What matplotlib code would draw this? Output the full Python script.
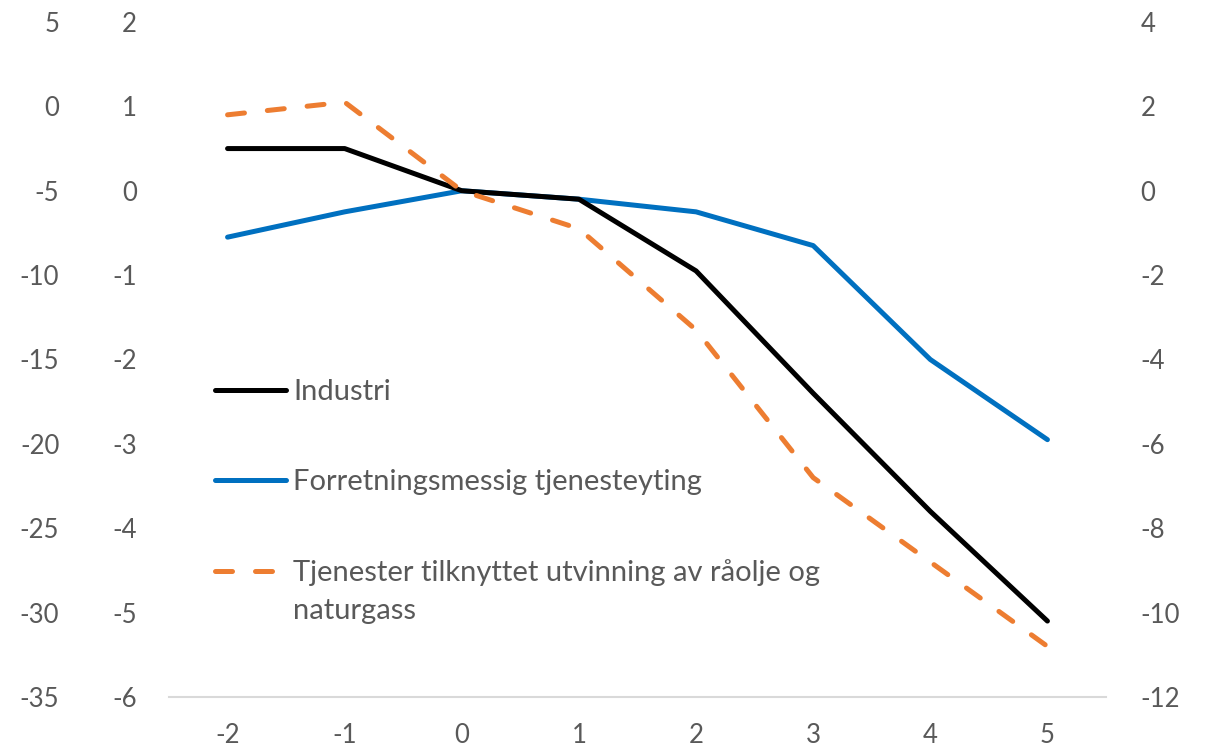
import matplotlib
matplotlib.use("Agg")
import matplotlib.pyplot as plt

plt.rcParams['font.family'] = ['Lato', 'DejaVu Sans']
plt.rcParams['axes.unicode_minus'] = False

years = [-2, -1, 0, 1, 2, 3, 4, 5]

# Industri and oil services, business services off the inner left axis
industri = [1.0, 1.0, 0.0, -0.2, -1.9, -4.8, -7.6, -10.2]
forretning = [-0.55, -0.25, 0.0, -0.1, -0.25, -0.65, -2.0, -2.95]
tjenester_olje = [1.8, 2.1, 0.0, -0.9, -3.3, -6.8, -8.8, -10.8]

labels = ["Industri", "Forretningsmessig tjenesteyting",
          "Tjenester tilknyttet utvinning av råolje og", "naturgass"]

outer_left_ticks = [5, 0, -5, -10, -15, -20, -25, -30, -35]
inner_left_ticks = [2, 1, 0, -1, -2, -3, -4, -5, -6]
right_ticks = [4, 2, 0, -2, -4, -6, -8, -10, -12]

GREY = "#595959"
FS = 18.5
LEG_FS = 21
W, H = 1205, 749

fig = plt.figure(figsize=(W / 100, H / 100), dpi=100)
ax = fig.add_axes([169 / W, 1 - 697 / H, (1106 - 169) / W, (697 - 22) / H])
ax_r = ax.twinx()
ax_o = ax.twinx()

ax.set_xlim(-2.5, 5.5)
ax.set_ylim(-6, 2)
ax_r.set_ylim(-12, 4)
ax_o.set_ylim(-35, 5)

for a in (ax, ax_r, ax_o):
    for s in a.spines.values():
        s.set_visible(False)
ax.spines['bottom'].set_visible(True)
ax.spines['bottom'].set_color("#d9d9d9")
ax.spines['bottom'].set_linewidth(1.5)

ax.set_xticks(years)
ax.set_yticks(inner_left_ticks)
ax.tick_params(axis='x', length=0, pad=19, labelsize=FS, labelcolor=GREY)
ax.tick_params(axis='y', length=0, pad=23, labelsize=FS, labelcolor=GREY)

ax_r.set_yticks(right_ticks)
ax_r.tick_params(axis='y', length=0, pad=25, labelsize=FS, labelcolor=GREY)

ax_o.yaxis.tick_left()
ax_o.set_yticks(outer_left_ticks)
ax_o.tick_params(axis='y', length=0, pad=79, labelsize=FS, labelcolor=GREY)

l1, = ax_r.plot(years, industri, color="black", lw=3.6, solid_capstyle='round',
                solid_joinstyle='round', label=labels[0], zorder=3)
l2, = ax.plot(years, forretning, color="#0070C0", lw=3.6, solid_capstyle='round',
              solid_joinstyle='round', label=labels[1], zorder=3)
l3, = ax_r.plot(years, tjenester_olje, color="#ED7D31", lw=3.6, dashes=(3.4, 4.6),
                dash_capstyle='round', dash_joinstyle='round', label=labels[2], zorder=3)

leg = ax_o.legend([l1, l2, l3], labels[:3], loc='upper left',
                  bbox_to_anchor=(215 / W, 1 - 379 / H), bbox_transform=fig.transFigure,
                  frameon=False, fontsize=LEG_FS, handlelength=2.45, handletextpad=0.24,
                  labelspacing=2.2, borderaxespad=0, borderpad=0)
for t in leg.get_texts():
    t.set_color(GREY)

# second line of the last legend label, placed under the first line
fig.canvas.draw()
bb = leg.get_texts()[2].get_window_extent()
fig.text(bb.x0 / W, (bb.y0 + bb.y1) / 2 / H - 38 / H, labels[3], va='center', ha='left',
         fontsize=LEG_FS, color=GREY)

fig.savefig("out.png", dpi=100)
